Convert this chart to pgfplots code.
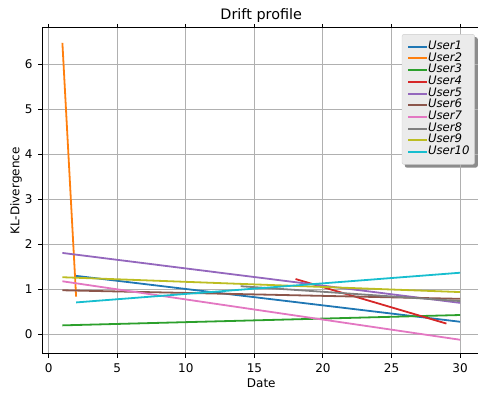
\documentclass[border=0pt]{standalone}
\usepackage{pgfplots}
\pgfplotsset{compat=1.18}
\usepackage{fontspec}
\setmainfont{DejaVu Sans}
\pgfdeclarelayer{shadowlayer}
\pgfsetlayers{shadowlayer,main}
\definecolor{c1}{HTML}{1F77B4}
\definecolor{c2}{HTML}{FF7F0E}
\definecolor{c3}{HTML}{2CA02C}
\definecolor{c4}{HTML}{D62728}
\definecolor{c5}{HTML}{9467BD}
\definecolor{c6}{HTML}{8C564B}
\definecolor{c7}{HTML}{E377C2}
\definecolor{c8}{HTML}{7F7F7F}
\definecolor{c9}{HTML}{BCBD22}
\definecolor{c10}{HTML}{17BECF}
\begin{document}
\begin{tikzpicture}
\useasboundingbox (0,0) rectangle (478pt,394pt);
\begin{axis}[
  at={(42.5pt,40.3pt)}, anchor=south west,
  scale only axis,
  width=437.5pt, height=325.7pt,
  xmin=-0.45, xmax=31.45,
  ymin=-0.43, ymax=6.81,
  xtick={0,5,...,30},
  ytick={0,1,...,6},
  tick align=outside,
  major tick length=4.2pt,
  tick style={black, line width=1pt},
  axis line style={line width=1pt},
  grid=major,
  major grid style={color=black!31, line width=1pt},
  tick label style={font=\fontsize{12}{14}\selectfont},
  xticklabel style={anchor=base, inner sep=0pt, yshift=-14.4pt},
  yticklabel style={anchor=east, inner sep=0pt, xshift=-5.6pt},
  /pgf/number format/assume math mode=true,
  xlabel={Date}, ylabel={KL-Divergence},
  label style={font=\fontsize{12}{14}\selectfont},
  xlabel style={at={(0.5,-0.1038)}, anchor=base},
  ylabel style={at={(-0.0606,0.5)}, anchor=center},
  title={Drift profile},
  every axis title shift=0pt,
  title style={font=\fontsize{14.4}{16}\selectfont, at={(0.5,1.0246)}, anchor=base},
  legend cell align=left,
  legend style={name=leg, font=\fontsize{11.7}{12}\itshape, fill=black!8, draw=black!20,
    rounded corners=2pt, row sep=0pt, inner xsep=5pt, inner ysep=6.5pt,
    nodes={inner sep=0pt, text height=8.5pt, text depth=3.2pt},
    at={(0.988,0.981)}, anchor=north east},
  legend image code/.code={\draw[#1, line width=2pt] (0pt,0pt) -- (19pt,0pt);},
  every axis plot/.append style={line width=1.8pt},
]
\addplot[c1] coordinates {(2,1.30) (30,0.28)};
\addplot[c2] coordinates {(1,6.48) (2,0.84)};
\addplot[c3] coordinates {(1,0.20) (30,0.43)};
\addplot[c4] coordinates {(18,1.23) (29,0.24)};
\addplot[c5] coordinates {(1,1.81) (30,0.70)};
\addplot[c6] coordinates {(1,0.98) (30,0.79)};
\addplot[c7] coordinates {(1,1.18) (30,-0.12)};
\addplot[c8] coordinates {(14,1.07) (30,0.74)};
\addplot[c9] coordinates {(1,1.27) (30,0.94)};
\addplot[c10] coordinates {(2,0.71) (30,1.37)};
\legend{User1,User2,User3,User4,User5,User6,User7,User8,User9,User10}
\end{axis}
% drop shadow under the legend box
\begin{pgfonlayer}{shadowlayer}
\fill[black!45, rounded corners=2pt] ([shift={(3pt,-3pt)}]leg.south west) rectangle ([shift={(3pt,-3pt)}]leg.north east);
\end{pgfonlayer}
\end{tikzpicture}
\end{document}
